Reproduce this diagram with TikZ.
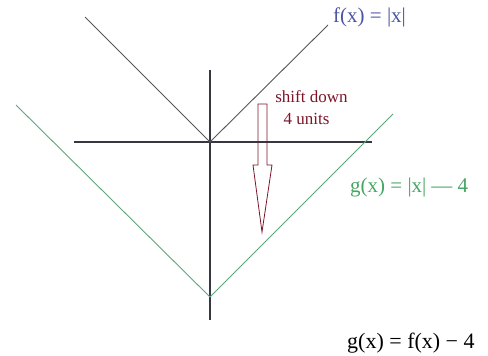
\documentclass[tikz,border=0pt]{standalone}
\usepackage{fontspec}
\setmainfont{Liberation Serif}
\definecolor{axisgray}{RGB}{55,55,65}
\definecolor{fgray}{RGB}{85,85,90}
\definecolor{gline}{RGB}{95,165,125}
\definecolor{gtext}{RGB}{70,165,100}
\definecolor{ftext}{RGB}{75,85,165}
\definecolor{darkred}{RGB}{125,20,40}
\tikzset{
  axisline/.style={draw=axisgray, line width=1.3pt},
  fline/.style={draw=fgray, line width=0.9pt},
  gcurve/.style={draw=gline, line width=0.9pt},
  lbl/.style={inner sep=0pt, anchor=west, font=\fontsize{21}{23}\selectfont},
  redlbl/.style={inner sep=0pt, text=darkred, font=\fontsize{17}{19}\selectfont},
  shiftarrow/.style={draw=darkred, line width=0.8pt, line join=miter}
}
\begin{document}
\begin{tikzpicture}[x=1pt,y=-1pt]
\useasboundingbox (0,0) rectangle (488,356);
% coordinates
\coordinate (O) at (210,142);
\coordinate (ytop) at (210,70);
\coordinate (ybot) at (210,320);
\coordinate (xl) at (74,142);
\coordinate (xr) at (372,142);
\coordinate (fl) at (85,17);
\coordinate (fr) at (328,25);
\coordinate (V) at (210,297);
\coordinate (gl) at (16,105);
\coordinate (gr) at (393,114);
% axes
\draw[axisline] (ytop) -- (ybot);
\draw[axisline] (xl) -- (xr);
% f(x)=|x|
\draw[fline] (fl) -- (O) -- (fr);
% g(x)=|x|-4
\draw[gcurve] (gl) -- (V) -- (gr);
% arrow
\draw[shiftarrow] (258,104) -- (267,104) -- (267,165) -- (272,165) -- (262,232) -- (253,165) -- (258,165) -- cycle;
% labels
\node[lbl, text=ftext] (flab) at (333,17) {f(x) = |x|};
\node[lbl, text=gtext] (glab) at (350,187) {g(x) = |x|\hspace{5pt}— 4};
\node[lbl, text=black, font=\fontsize{22}{24}\selectfont] (eqlab) at (347,343) {g(x) = f(x) − 4};
\node[redlbl] (s1) at (311.5,97) {shift down};
\node[redlbl] (s2) at (306.5,119) {4 units};
\end{tikzpicture}
\end{document}
